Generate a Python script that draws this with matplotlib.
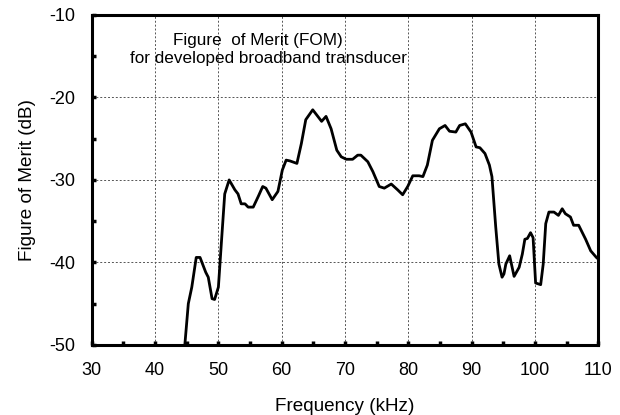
import numpy as np
import matplotlib
matplotlib.use("Agg")
import matplotlib.pyplot as plt
from matplotlib.ticker import MultipleLocator

plt.rcParams['font.family'] = ['Liberation Sans', 'DejaVu Sans']
plt.rcParams['axes.unicode_minus'] = False

# frequency (kHz) and figure of merit (dB)
freq = [44.7, 45.25, 45.8, 46.5, 47.1, 48.0, 48.4, 49.0, 49.4, 50.0, 50.5, 51.0,
        51.7, 52.6, 53.1, 53.6, 54.2, 54.7, 55.5, 56.3, 57.0, 57.5, 58.5, 59.4,
        60.1, 60.7, 61.3, 62.4, 63.1, 63.8, 64.9, 65.5, 66.3, 67.0, 67.8, 68.7,
        69.4, 70.2, 71.2, 72.0, 72.5, 73.6, 74.4, 75.4, 76.2, 77.3, 78.3, 79.1,
        79.9, 80.7, 81.7, 82.3, 83.0, 83.8, 84.9, 85.8, 86.5, 87.5, 88.1, 89.0,
        89.9, 90.7, 91.3, 92.1, 92.8, 93.2, 93.8, 94.3, 94.8, 95.1, 95.4, 96.0,
        96.7, 97.5, 98.0, 98.4, 98.8, 99.3, 99.7, 100.1, 100.9, 101.3, 101.7,
        102.2, 103.0, 103.7, 104.3, 104.8, 105.6, 106.1, 106.9, 108.0, 108.8,
        109.7, 110.0]
fom = [-50.0, -45.0, -43.0, -39.4, -39.4, -41.2, -41.8, -44.4, -44.5, -43.0, -37.3, -31.7,
       -30.0, -31.2, -31.7, -32.9, -32.9, -33.3, -33.3, -32.0, -30.8, -31.0, -32.4, -31.4,
       -28.8, -27.6, -27.7, -28.0, -25.6, -22.7, -21.5, -22.1, -22.9, -22.3, -23.8, -26.4,
       -27.2, -27.5, -27.5, -27.0, -27.0, -27.8, -29.0, -30.8, -31.0, -30.5, -31.2, -31.8,
       -30.8, -29.5, -29.5, -29.6, -28.2, -25.2, -23.8, -23.4, -24.1, -24.2, -23.4, -23.2,
       -24.2, -26.0, -26.1, -26.8, -28.2, -29.6, -35.7, -40.2, -41.8, -41.4, -40.2, -39.2,
       -41.7, -40.6, -39.0, -37.2, -37.1, -36.4, -37.0, -42.5, -42.7, -40.2, -35.3,
       -33.9, -33.9, -34.3, -33.5, -34.1, -34.5, -35.5, -35.5, -37.2, -38.6,
       -39.4, -39.6]

fig = plt.figure(figsize=(6.2, 4.15), dpi=100)
ax = fig.add_axes([0.148, 0.169, 0.817, 0.795])

ax.plot(freq, fom, color='k', lw=2.0, solid_joinstyle='round')

ax.set_xlim(30, 110)
ax.set_ylim(-50, -10)
ax.xaxis.set_major_locator(MultipleLocator(10))
ax.xaxis.set_minor_locator(MultipleLocator(5))
ax.yaxis.set_major_locator(MultipleLocator(10))
ax.yaxis.set_minor_locator(MultipleLocator(5))
ax.tick_params(which='both', direction='in', width=2.5, length=3,
               top=False, right=False, labelsize=13, pad=12)
ax.grid(which='major', color='#555555', ls=(0, (2, 2)), lw=0.7)
for s in ax.spines.values():
    s.set_linewidth(2.2)

ax.set_xlabel('Frequency (kHz)', fontsize=13.6, labelpad=14)
ax.set_ylabel('Figure of Merit (dB)', fontsize=13.6)
ax.yaxis.set_label_coords(-0.11, 0.5)

fig.text(258 / 620, 1 - 40 / 415, 'Figure  of Merit (FOM)', fontsize=12.3,
         ha='center', va='center')
fig.text(269 / 620, 1 - 59 / 415, 'for developed broadband transducer',
         fontsize=12.3, ha='center', va='center')

fig.savefig('out.png', dpi=100)
